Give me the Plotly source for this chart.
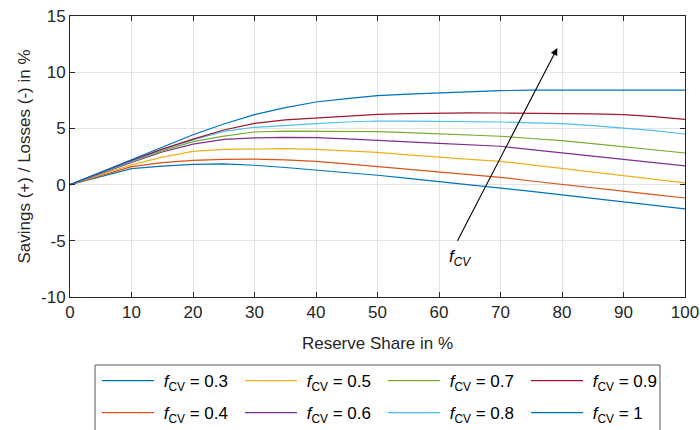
import plotly.graph_objects as go

reserve_share = [0, 5, 10, 15, 20, 25, 30, 35, 40, 45, 50, 55, 60, 65, 70, 75, 80, 85, 90, 95, 100]

f_cv_values = [0.3, 0.4, 0.5, 0.6, 0.7, 0.8, 0.9, 1]

s_03 = [0, 0.72, 1.42, 1.65, 1.8, 1.84, 1.72, 1.52, 1.3, 1.07, 0.83, 0.56, 0.27, 0.0, -0.27, -0.6, -0.92, -1.22, -1.54, -1.85, -2.16]
s_04 = [0, 0.8, 1.6, 1.95, 2.15, 2.25, 2.27, 2.2, 2.07, 1.85, 1.6, 1.35, 1.1, 0.87, 0.65, 0.32, 0.0, -0.3, -0.62, -0.9, -1.19]
s_05 = [0, 0.88, 1.75, 2.45, 2.96, 3.14, 3.2, 3.2, 3.14, 3.02, 2.87, 2.65, 2.43, 2.25, 2.07, 1.75, 1.42, 1.12, 0.83, 0.5, 0.15]
s_06 = [0, 1.0, 1.98, 2.9, 3.6, 4.03, 4.15, 4.2, 4.18, 4.07, 3.91, 3.8, 3.67, 3.55, 3.41, 3.12, 2.84, 2.55, 2.25, 1.95, 1.66]
s_07 = [0, 1.03, 2.05, 3.0, 3.82, 4.32, 4.68, 4.75, 4.74, 4.73, 4.71, 4.62, 4.5, 4.42, 4.3, 4.1, 3.91, 3.65, 3.38, 3.1, 2.81]
s_08 = [0, 1.05, 2.1, 3.1, 3.98, 4.74, 5.1, 5.28, 5.42, 5.57, 5.66, 5.65, 5.63, 5.6, 5.57, 5.5, 5.42, 5.25, 5.04, 4.8, 4.5]
s_09 = [0, 1.08, 2.15, 3.15, 4.05, 4.86, 5.45, 5.75, 5.93, 6.12, 6.25, 6.32, 6.37, 6.38, 6.37, 6.36, 6.34, 6.3, 6.22, 6.05, 5.81]
s_10 = [0, 1.1, 2.2, 3.32, 4.44, 5.39, 6.22, 6.85, 7.35, 7.65, 7.91, 8.05, 8.15, 8.28, 8.36, 8.4, 8.41, 8.43, 8.44, 8.43, 8.41]

series = [s_03, s_04, s_05, s_06, s_07, s_08, s_09, s_10]
colors = ["#0072BD", "#D95319", "#EDB120", "#7E2F8E", "#77AC30", "#4DBEEE", "#A2142F", "#0072BD"]
legend_rows = ["legend", "legend2", "legend", "legend2", "legend", "legend2", "legend", "legend2"]

x_ticks = [0, 10, 20, 30, 40, 50, 60, 70, 80, 90, 100]
x_tick_labels = ["0", "10", "20", "30", "40", "50", "60", "70", "80", "90", "100"]
y_ticks = [-10, -5, 0, 5, 10, 15]
y_tick_labels = ["-10", "-5", "0", "5", "10", "15"]

FONT = "Liberation Sans, Arial, sans-serif"
TXT = "#262626"

fig = go.Figure()
for fv, ys, col, lg in zip(f_cv_values, series, colors, legend_rows):
    fig.add_trace(go.Scatter(
        x=reserve_share, y=ys, mode="lines",
        line=dict(color=col, width=1.2),
        name="\u00a0<i>f</i><sub>CV</sub> = " + ("1" if fv == 1 else f"{fv:g}"),
        legend=lg,
    ))

# arrow
fig.add_annotation(
    x=79.24, y=12.15, ax=62.88, ay=-5.13, xref="x", yref="y", axref="x", ayref="y",
    text="", showarrow=True, arrowhead=2, arrowsize=1.3, arrowwidth=1.1, arrowcolor="#000000",
)
fig.add_annotation(
    x=63.4, y=-6.5, xref="x", yref="y", text="<i>f</i><sub><i>CV</i></sub>",
    showarrow=False, font=dict(family=FONT, size=17, color="#000000"),
    xanchor="center", yanchor="middle",
)

# legend frame
fig.add_shape(type="rect", xref="paper", yref="paper",
              x0=0.0407, x1=0.9593, y0=-0.242, y1=-0.52,
              line=dict(color="#555555", width=1), fillcolor="rgba(0,0,0,0)", layer="below")

axis_common = dict(
    showgrid=True, gridcolor="#e3e3e3", gridwidth=1,
    showline=True, linecolor=TXT, linewidth=1, mirror="ticks",
    ticks="inside", ticklen=5, tickcolor=TXT, tickwidth=1,
    zeroline=False, tickfont=dict(family=FONT, size=17, color=TXT),
)

legend_common = dict(
    orientation="h", xanchor="left", yanchor="top",
    borderwidth=0, bgcolor="rgba(0,0,0,0)",
    font=dict(family=FONT, size=17, color="#000000"),
    entrywidth=76, entrywidthmode="pixels", itemwidth=52,
    traceorder="normal",
)

fig.update_layout(
    width=700, height=430,
    margin=dict(l=70, r=15, t=16, b=133, autoexpand=False),
    paper_bgcolor="white", plot_bgcolor="white",
    font=dict(family=FONT, size=17, color=TXT),
    xaxis=dict(range=[0, 100], tickvals=x_ticks, ticktext=x_tick_labels,
               title=dict(text="Reserve Share in %", font=dict(family=FONT, size=17, color=TXT), standoff=15),
               **axis_common),
    yaxis=dict(range=[-10, 15], tickvals=y_ticks, ticktext=y_tick_labels,
               title=dict(text="Savings (+) / Losses (-) in %", font=dict(family=FONT, size=17, color=TXT), standoff=6),
               **axis_common),
    showlegend=True,
    legend=dict(x=0.0439, y=-0.2348, **legend_common),
    legend2=dict(x=0.0439, y=-0.3487, **legend_common),
)

fig.write_html(
    "out.html",
    config={"displayModeBar": False},
    post_script="document.body.style.margin='0px';document.body.style.overflow='hidden';",
)
